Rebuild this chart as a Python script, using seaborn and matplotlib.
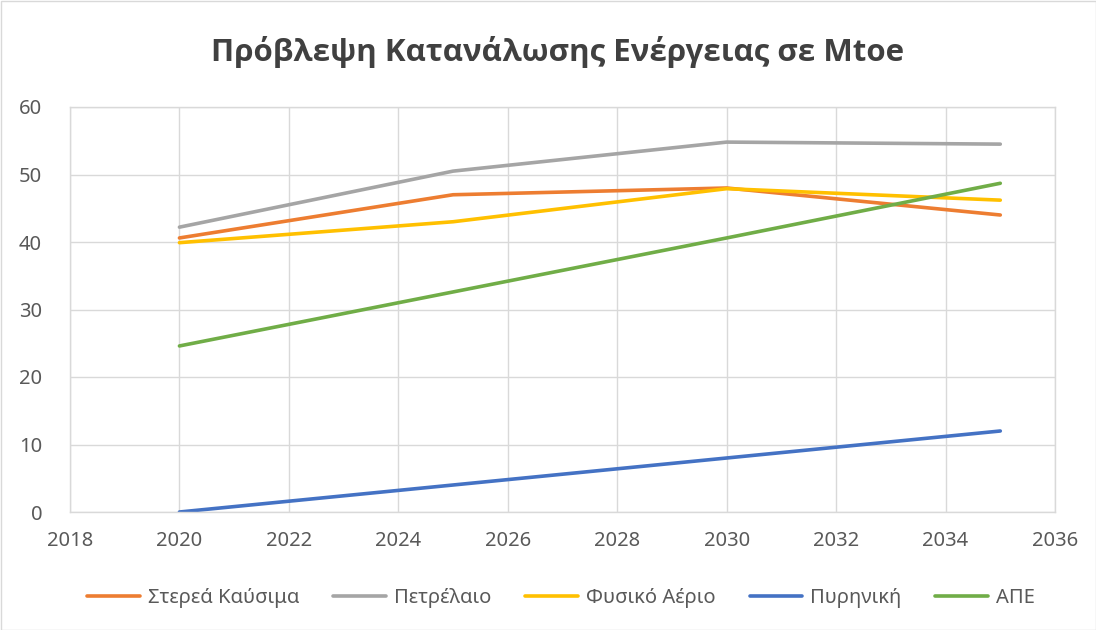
import matplotlib
matplotlib.use("Agg")
import matplotlib.pyplot as plt
import seaborn as sns
import pandas as pd
from matplotlib.patches import Rectangle

years = [2020, 2025, 2030, 2035]
solid_fuels = [40.6, 47.0, 48.0, 44.0]
oil = [42.2, 50.5, 54.8, 54.5]
natural_gas = [39.9, 43.0, 47.9, 46.2]
nuclear = [0.0, 4.0, 8.0, 12.0]
renewables = [24.6, 32.6, 40.6, 48.7]

series_names = ["Στερεά Καύσιμα", "Πετρέλαιο", "Φυσικό Αέριο", "Πυρηνική", "ΑΠΕ"]
series_values = [solid_fuels, oil, natural_gas, nuclear, renewables]
colors = ["#ED7D31", "#A5A5A5", "#FFC000", "#4472C4", "#70AD47"]
title = "Πρόβλεψη Κατανάλωσης Ενέργειας σε Mtoe"

rows = []
for name, vals in zip(series_names, series_values):
    for y, v in zip(years, vals):
        rows.append({"year": y, "value": v, "series": name})
df = pd.DataFrame(rows)

sns.set_theme(style="white")
plt.rcParams['font.family'] = ['Noto Sans', 'DejaVu Sans']

fig = plt.figure(figsize=(10.96, 6.30), dpi=100)
ax = fig.add_axes([70/1096, 118/630, (1055-70)/1096, (512-107)/630])

sns.lineplot(data=df, x="year", y="value", hue="series", hue_order=series_names,
             palette=colors, linewidth=2.6, ax=ax, legend=True)

ax.set_xlim(2018, 2036)
ax.set_ylim(0, 60)
ax.set_xticks(range(2018, 2037, 2))
ax.set_yticks(range(0, 61, 10))
ax.grid(True, color="#D9D9D9", linewidth=1.0)
ax.set_axisbelow(True)
for s in ax.spines.values():
    s.set_color("#D9D9D9")
    s.set_linewidth(1.0)
ax.set_xlabel("")
ax.set_ylabel("")
ax.tick_params(axis="both", colors="#595959", labelsize=14.5, length=0)
ax.tick_params(axis="x", pad=14)
ax.tick_params(axis="y", pad=20)

handles, labels = ax.get_legend_handles_labels()
ax.legend(handles, labels, loc="center", bbox_to_anchor=(561/1096, (630-598)/630),
          bbox_transform=fig.transFigure, ncol=5, frameon=False, fontsize=14.5,
          handlelength=2.6, columnspacing=1.7, handletextpad=0.4,
          labelcolor="#595959")

fig.text(558/1096, (630-52)/630, title, ha="center", va="center", fontsize=22.5,
         fontweight="bold", color="#404040", family=["Open Sans", "DejaVu Sans"])

fig.patches.append(Rectangle((0.5/1096, 0.5/630), 1-1/1096, 1-1/630, transform=fig.transFigure,
                             fill=False, edgecolor="#D9D9D9", linewidth=1.0))

fig.savefig("out.png", dpi=100)
